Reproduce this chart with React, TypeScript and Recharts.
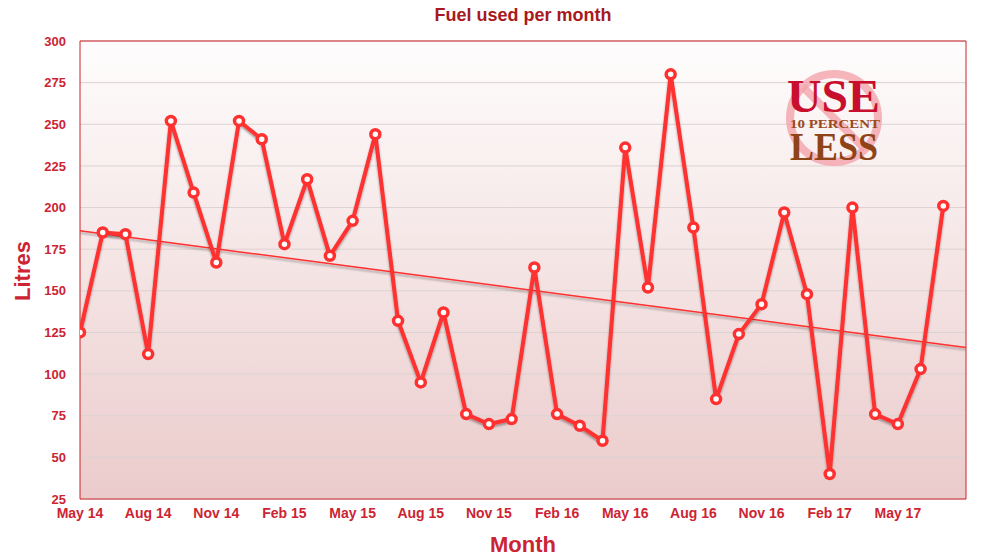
import React from 'react';
import { LineChart, Line, XAxis, YAxis, CartesianGrid, ReferenceArea } from 'recharts';

const months = [
  'May 14','Jun 14','Jul 14','Aug 14','Sep 14','Oct 14','Nov 14','Dec 14','Jan 15','Feb 15','Mar 15','Apr 15',
  'May 15','Jun 15','Jul 15','Aug 15','Sep 15','Oct 15','Nov 15','Dec 15','Jan 16','Feb 16','Mar 16','Apr 16',
  'May 16','Jun 16','Jul 16','Aug 16','Sep 16','Oct 16','Nov 16','Dec 16','Jan 17','Feb 17','Mar 17','Apr 17',
  'May 17','Jun 17','Jul 17','Aug 17'
];
const litres = [
  125,185,184,112,252,209,167,252,241,178,217,171,
  192,244,132,95,137,76,70,73,164,76,69,60,
  236,152,280,188,85,124,142,197,148,40,200,76,
  70,103,201
];
const trendStartEnd = [186, 116];
const yTicks = [25,50,75,100,125,150,175,200,225,250,275,300];
const xTicks = [0,3,6,9,12,15,18,21,24,27,30,33,36];

const data = litres.map((v, i) => ({ i, v }));
const trendData = [
  { i: 0, t: trendStartEnd[0] },
  { i: months.length - 1, t: trendStartEnd[1] },
];

const RED = '#cc2433';
const FONT = '"Liberation Sans", Arial, Helvetica, sans-serif';
const SERIF = '"Liberation Serif", "DejaVu Serif", serif';

function Dot(props: any) {
  const { cx, cy } = props;
  if (cx == null || cy == null) return null;
  return <circle cx={cx} cy={cy} r={4.5} fill="#ffffff" stroke="#ff3030" strokeWidth={3.5} />;
}

export default function App() {
  return (
    <div style={{ position: 'absolute', left: 0, top: 0, width: 989, height: 560, background: '#fff', fontFamily: FONT }}>
      <svg width={0} height={0} style={{ position: 'absolute' }}>
        <defs>
          <linearGradient id="bgGrad" x1="0" y1="0" x2="0" y2="1">
            <stop offset="0%" stopColor="#fefdfd" />
            <stop offset="100%" stopColor="#ebcbcb" />
          </linearGradient>
          <filter id="shadow" x="-10%" y="-10%" width="120%" height="130%">
            <feDropShadow dx="0" dy="2" stdDeviation="1.2" floodColor="#000" floodOpacity="0.35" />
          </filter>
        </defs>
      </svg>
      <LineChart
        width={989}
        height={560}
        data={data}
        margin={{ top: 41, right: 23, bottom: 31, left: 30 }}
      >
        <CartesianGrid vertical={false} stroke="#dcd2d2" fill="url(#bgGrad)" fillOpacity={1} />
        <XAxis
          dataKey="i"
          type="number"
          domain={[0, months.length - 1]}
          ticks={xTicks}
          tickFormatter={(v: number) => months[v]}
          interval={0}
          height={30}
          axisLine={false}
          tickLine={false}
          tickSize={0}
          tickMargin={9}
          tick={{ fill: RED, fontSize: 14, fontWeight: 700, fontFamily: FONT }}
          allowDataOverflow
        />
        <YAxis
          type="number"
          domain={[25, 300]}
          ticks={yTicks}
          interval={0}
          width={50}
          axisLine={false}
          tickLine={false}
          tickSize={0}
          tickMargin={14}
          tick={{ fill: RED, fontSize: 13, fontWeight: 700, fontFamily: FONT }}
        />
        <ReferenceArea x1={0} x2={months.length - 1} y1={25} y2={300} fill="none" stroke="#cc2229" strokeWidth={1} ifOverflow="extendDomain" />
        <Line
          data={trendData}
          dataKey="t"
          stroke="#ff3030"
          strokeWidth={1.5}
          dot={false}
          activeDot={false}
          isAnimationActive={false}
          style={{ filter: 'url(#shadow)' }}
        />
        <Line
          dataKey="v"
          stroke="#ff3030"
          strokeWidth={4}
          dot={<Dot />}
          activeDot={false}
          isAnimationActive={false}
          strokeLinejoin="round"
          style={{ filter: 'url(#shadow)' }}
        />
      </LineChart>
      <svg width={989} height={560} style={{ position: 'absolute', left: 0, top: 0, pointerEvents: 'none' }}>
        <text x={523} y={21} textAnchor="middle" fill="#a8191e" fontSize={18} fontWeight={700} fontFamily={FONT}>Fuel used per month</text>
        <text x={523} y={552} textAnchor="middle" fill={RED} fontSize={22} fontWeight={700} fontFamily={FONT}>Month</text>
        <text x={0} y={0} transform="translate(30,271) rotate(-90)" textAnchor="middle" fill={RED} fontSize={22} fontWeight={700} fontFamily={FONT}>Litres</text>
        <g>
          <circle cx={834} cy={118} r={44} fill="none" stroke="#f4a3ab" strokeOpacity={0.8} strokeWidth={8} />
          <line x1={803} y1={87} x2={865} y2={149} stroke="#f4a3ab" strokeOpacity={0.8} strokeWidth={8} />
          <text fontWeight={700} fontFamily={SERIF}>
            <tspan x={787} y={112} fill="#c8102e" fontSize={46} textLength={93} lengthAdjust="spacingAndGlyphs">USE</tspan>
            <tspan x={790} y={128} fill="#9a4a1c" fontSize={13} textLength={90} lengthAdjust="spacingAndGlyphs">10 PERCENT</tspan>
            <tspan x={790} y={160} fill="#8f4418" fontSize={41} textLength={88} lengthAdjust="spacingAndGlyphs">LESS</tspan>
          </text>
        </g>
      </svg>
    </div>
  );
}
